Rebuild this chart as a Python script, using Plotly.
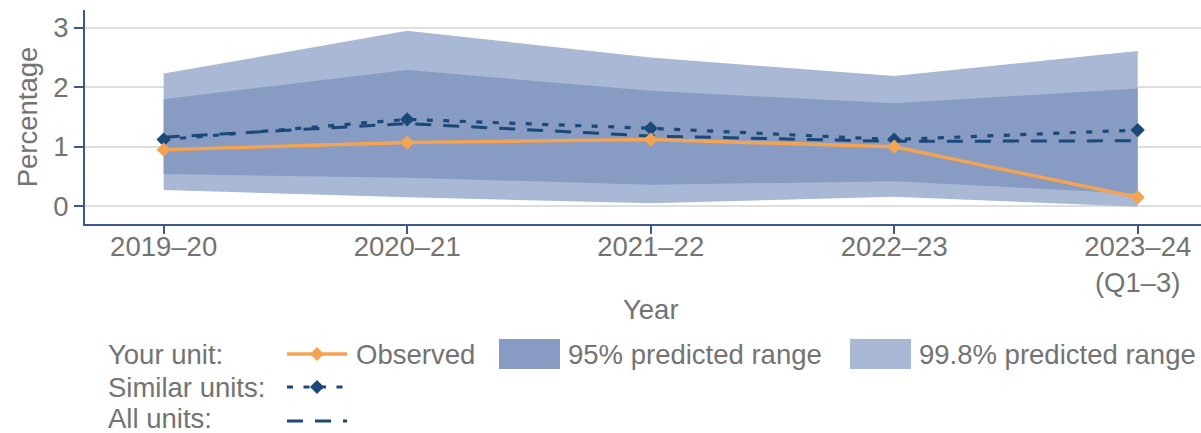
import plotly.graph_objects as go

# ---- data -------------------------------------------------------------
years = ["2019–20", "2020–21", "2021–22", "2022–23", "2023–24<br>(Q1–3)"]
observed = [0.95, 1.07, 1.12, 1.00, 0.15]
similar_units = [1.12, 1.46, 1.31, 1.12, 1.28]
all_units = [1.16, 1.39, 1.18, 1.09, 1.10]
range95_low = [0.54, 0.48, 0.36, 0.42, 0.21]
range95_high = [1.80, 2.29, 1.94, 1.73, 1.98]
range998_low = [0.27, 0.15, 0.05, 0.16, -0.01]
range998_high = [2.23, 2.95, 2.50, 2.19, 2.61]
y_ticks = [0, 1, 2, 3]

# ---- styling ----------------------------------------------------------
FONT = "Liberation Sans, Arial, sans-serif"
TEXT = "#737373"
AXIS = "#3b598c"
GRID = "#dedede"
C998 = "#a9b8d5"
C95 = "#879bc3"
ORANGE = "#f3a352"
NAVY = "#1a4878"
FS = 27.5

W, H = 1201, 433
ML, MR, MT, MB = 85, 0, 10, 209
PW, PH = W - ML - MR, H - MT - MB


def px_x(px):
    return (px - ML) / PW


def px_y(py):
    return (H - MB - py) / PH


fig = go.Figure()

# prediction bands
fig.add_trace(go.Scatter(x=years, y=range998_low, mode="lines",
                         line=dict(width=0, color=C998), showlegend=False,
                         hoverinfo="skip"))
fig.add_trace(go.Scatter(x=years, y=range998_high, mode="lines", fill="tonexty",
                         fillcolor=C998, line=dict(width=0, color=C998),
                         showlegend=False, name="99.8% predicted range"))
fig.add_trace(go.Scatter(x=years, y=range95_low, mode="lines",
                         line=dict(width=0, color=C95), showlegend=False,
                         hoverinfo="skip"))
fig.add_trace(go.Scatter(x=years, y=range95_high, mode="lines", fill="tonexty",
                         fillcolor=C95, line=dict(width=0, color=C95),
                         showlegend=False, name="95% predicted range"))

# comparison lines
fig.add_trace(go.Scatter(x=years, y=all_units, mode="lines",
                         line=dict(color=NAVY, width=3, dash="16px,12px"),
                         showlegend=False, name="All units"))
fig.add_trace(go.Scatter(x=years, y=similar_units, mode="lines+markers",
                         line=dict(color=NAVY, width=3.2, dash="6px,10.5px"),
                         marker=dict(symbol="diamond", size=11, color=NAVY),
                         showlegend=False, name="Similar units"))
fig.add_trace(go.Scatter(x=years, y=observed, mode="lines+markers",
                         line=dict(color=ORANGE, width=3.5),
                         marker=dict(symbol="diamond", size=11, color=ORANGE),
                         showlegend=False, name="Observed"))

# ---- legend (drawn below the panel) ----------------------------------
annotations = []
shapes = []


def label(text, x_px, y_px, anchor="left"):
    annotations.append(dict(text=text, xref="paper", yref="paper",
                            x=px_x(x_px), y=px_y(y_px), xanchor=anchor,
                            yanchor="middle", showarrow=False,
                            font=dict(family=FONT, size=FS, color=TEXT)))


def diamond(x_px, y_px, color):
    shapes.append(dict(type="path", xref="paper", yref="paper",
                       xsizemode="pixel", ysizemode="pixel",
                       xanchor=px_x(x_px), yanchor=px_y(y_px),
                       path="M-7,0 L0,7 L7,0 L0,-7 Z",
                       fillcolor=color, line=dict(width=0)))


def seg(x0, x1, y, color, width, dash="solid"):
    shapes.append(dict(type="line", xref="paper", yref="paper",
                       x0=px_x(x0), x1=px_x(x1), y0=px_y(y), y1=px_y(y),
                       line=dict(color=color, width=width, dash=dash)))


def box(x0, x1, y0, y1, color):
    shapes.append(dict(type="rect", xref="paper", yref="paper",
                       x0=px_x(x0), x1=px_x(x1), y0=px_y(y0), y1=px_y(y1),
                       fillcolor=color, line=dict(width=0)))


row1, row2, row3 = 354, 387, 418
label("Your unit:", 106, row1)
label("Similar units:", 106, row2)
label("All units:", 106, row3)

seg(287, 347, row1, ORANGE, 3.5)
diamond(317, row1, ORANGE)
label("Observed", 354, row1)

box(499, 560, row1 - 15, row1 + 15, C95)
label("95% predicted range", 566, row1)
box(850, 911, row1 - 15, row1 + 15, C998)
label("99.8% predicted range", 917, row1)

seg(287, 347, row2, NAVY, 3.2, "6px,10.5px")
diamond(317, row2, NAVY)
seg(287, 347, row3 + 3, NAVY, 3, "16px,12px")

# x-axis title centred on the middle year
annotations.append(dict(text="Year", xref="x", yref="paper", x=years[2],
                        y=px_y(309), xanchor="center", yanchor="middle",
                        showarrow=False,
                        font=dict(family=FONT, size=FS, color=TEXT)))

fig.update_layout(
    width=W, height=H,
    margin=dict(l=ML, r=MR, t=MT, b=MB, pad=0),
    paper_bgcolor="white", plot_bgcolor="white",
    font=dict(family=FONT, size=FS, color=TEXT),
    showlegend=False,
    annotations=annotations,
    shapes=shapes,
    xaxis=dict(
        type="category", range=[-0.323, 4.26],
        showgrid=False, zeroline=False,
        showline=True, linecolor=AXIS, linewidth=2,
        ticks="outside", ticklen=8, tickwidth=2, tickcolor=AXIS,
        ticklabelstandoff=-11,
        tickfont=dict(family=FONT, size=FS, color=TEXT),
    ),
    yaxis=dict(
        range=[-0.3, 3.3], tickvals=y_ticks,
        showgrid=True, gridcolor=GRID, gridwidth=2, zeroline=False,
        showline=True, linecolor=AXIS, linewidth=2,
        ticks="outside", ticklen=9, tickwidth=2, tickcolor=AXIS,
        tickfont=dict(family=FONT, size=FS, color=TEXT),
        title=dict(text="Percentage", standoff=8,
                   font=dict(family=FONT, size=FS, color=TEXT)),
    ),
)

fig.write_html("out.html")
